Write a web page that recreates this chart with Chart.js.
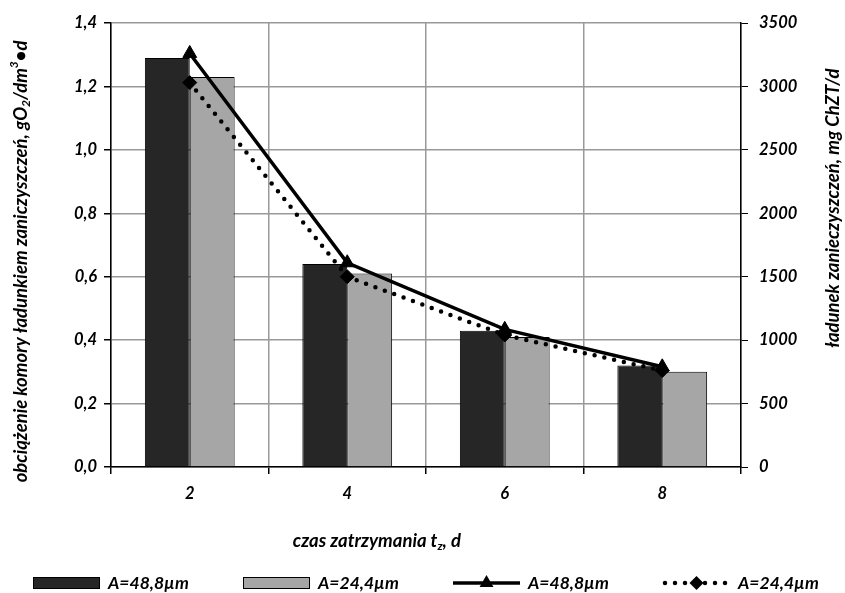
<!DOCTYPE html>
<html><head><meta charset="utf-8">
<script src="https://cdn.jsdelivr.net/npm/chart.js@4.4.1/dist/chart.umd.min.js"></script>
<style>html,body{margin:0;padding:0;background:#fff}#wrap{width:845px;height:593px}</style>
</head><body><div id="wrap"><canvas id="c" width="845" height="593"></canvas></div>
<script>
const categories = ['2', '4', '6', '8'];
const barA488 = [1.29, 0.64, 0.43, 0.32];
const barA244 = [1.23, 0.61, 0.41, 0.30];
const lineA488 = [3260, 1610, 1085, 790];
const lineA244 = [3030, 1500, 1040, 760];
const leftTickLabels = ['0,0', '0,2', '0,4', '0,6', '0,8', '1,0', '1,2', '1,4'];
const rightTickLabels = ['0', '500', '1000', '1500', '2000', '2500', '3000', '3500'];
const seriesLabels = ['A=48,8µm', 'A=24,4µm', 'A=48,8µm', 'A=24,4µm'];
const xTitle = [{t: 'czas zatrzymania t'}, {t: 'z', k: 'sub'}, {t: ', d'}];
const yLeftTitle = [{t: 'obciążenie komory ładunkiem zaniczyszczeń, gO'}, {t: '2', k: 'sub'}, {t: '/dm'}, {t: '3', k: 'sup'}, {t: '•d'}];
const yRightTitle = [{t: 'ładunek zanieczyszczeń, mg ChZT/d'}];

const FAM = 'Lato, "Open Sans", sans-serif';
const tickFont = {family: FAM, size: 16.5, style: 'italic', weight: 'bold'};

function drawRich(ctx, segs, cx, cy, rot, size) {
  ctx.save();
  ctx.translate(cx, cy);
  ctx.rotate(rot);
  const main = `italic bold ${size}px ${FAM}`;
  const small = `italic bold ${Math.round(size * 0.65)}px ${FAM}`;
  let total = 0;
  const ws = segs.map(s => { ctx.font = s.k ? small : main; const w = ctx.measureText(s.t).width; total += w; return w; });
  let x = -total / 2;
  ctx.textBaseline = 'middle';
  ctx.textAlign = 'left';
  ctx.fillStyle = '#000';
  segs.forEach((s, i) => {
    ctx.font = s.k ? small : main;
    const dy = s.k === 'sub' ? size * 0.3 : (s.k === 'sup' ? -size * 0.35 : 0);
    ctx.fillText(s.t, x, dy);
    x += ws[i];
  });
  ctx.restore();
}

function drawMarker(ctx, style, x, y, r) {
  ctx.beginPath();
  if (style === 'triangle') {
    const s = Math.sin(Math.PI / 3) * r;
    ctx.moveTo(x, y - r);
    ctx.lineTo(x + s, y + r / 2);
    ctx.lineTo(x - s, y + r / 2);
  } else {
    ctx.moveTo(x - r, y);
    ctx.lineTo(x, y - r);
    ctx.lineTo(x + r, y);
    ctx.lineTo(x, y + r);
  }
  ctx.closePath();
  ctx.fillStyle = '#000';
  ctx.fill();
}

const titlesPlugin = {
  id: 'titles',
  afterDraw(chart) {
    const ctx = chart.ctx;
    const a = chart.chartArea;
    drawRich(ctx, xTitle, a.left + a.width * 0.422, a.bottom + 74, 0, 18.5);
    drawRich(ctx, yLeftTitle, 21, a.top + a.height * 0.537, -Math.PI / 2, 18.5);
    drawRich(ctx, yRightTitle, chart.width - 12, a.top + a.height * 0.417, -Math.PI / 2, 18.5);
  }
};

const legendPlugin = {
  id: 'customLegend',
  afterDraw(chart) {
    const ctx = chart.ctx;
    const a = chart.chartArea;
    const pitch = 210, boxW = 67, gap = 8;
    const cy = a.bottom + 116;
    const x0 = a.left + a.width / 2 - 393;
    chart.data.datasets.forEach((ds, i) => {
      const x = x0 + i * pitch;
      ctx.save();
      if ((ds.type || 'bar') === 'bar') {
        ctx.fillStyle = ds.backgroundColor;
        ctx.fillRect(x, cy - 5.5, boxW, 11);
        ctx.strokeStyle = '#000';
        ctx.lineWidth = 1;
        ctx.strokeRect(x + 0.5, cy - 5.5, boxW - 1, 11);
      } else {
        ctx.strokeStyle = ds.borderColor;
        ctx.lineWidth = ds.borderWidth;
        ctx.setLineDash(ds.borderDash || []);
        ctx.lineCap = ds.borderCapStyle || 'butt';
        ctx.beginPath();
        ctx.moveTo(x + (ds.borderDash ? 2 : 0), cy);
        ctx.lineTo(x + boxW, cy);
        ctx.stroke();
        ctx.setLineDash([]);
        drawMarker(ctx, ds.pointStyle, x + boxW / 2, cy, ds.pointRadius);
      }
      ctx.fillStyle = '#000';
      ctx.font = `italic bold 17.5px ${FAM}`;
      ctx.textBaseline = 'middle';
      ctx.textAlign = 'left';
      ctx.fillText(ds.label, x + boxW + gap, cy);
      ctx.restore();
    });
  }
};

new Chart(document.getElementById('c'), {
  type: 'bar',
  data: {
    labels: categories,
    datasets: [
      {label: seriesLabels[0], data: barA488, backgroundColor: '#262626', borderColor: '#000', borderWidth: 1, yAxisID: 'y', order: 2, barPercentage: 1, categoryPercentage: 0.57},
      {label: seriesLabels[1], data: barA244, backgroundColor: '#a6a6a6', borderColor: '#000', borderWidth: 1, yAxisID: 'y', order: 2, barPercentage: 1, categoryPercentage: 0.57},
      {type: 'line', label: seriesLabels[2], data: lineA488, yAxisID: 'y1', borderColor: '#000', borderWidth: 3.5, pointStyle: 'triangle', pointRadius: 8, pointBackgroundColor: '#000', pointBorderColor: '#000', pointBorderWidth: 1, fill: false, tension: 0, order: 1},
      {type: 'line', label: seriesLabels[3], data: lineA244, yAxisID: 'y1', borderColor: '#000', borderWidth: 4.5, borderDash: [0, 10], borderCapStyle: 'round', pointStyle: 'rectRot', pointRadius: 7, pointBackgroundColor: '#000', pointBorderColor: '#000', pointBorderWidth: 1, fill: false, tension: 0, order: 1}
    ]
  },
  options: {
    responsive: false,
    animation: false,
    devicePixelRatio: 1,
    layout: {padding: {left: 0, right: 0, top: 23, bottom: 85}},
    plugins: {legend: {display: false}, tooltip: {enabled: false}},
    scales: {
      x: {
        offset: true,
        grid: {offset: true, color: '#999', lineWidth: 1.5, tickColor: '#000', tickLength: 7},
        border: {color: '#000', width: 1.5},
        ticks: {font: tickFont, color: '#000', padding: 10},
        afterFit(s) { s.height = 41; }
      },
      y: {
        position: 'left',
        min: 0, max: 1.4,
        ticks: {stepSize: 0.2, font: tickFont, color: '#000', padding: 7, callback: (v, i) => leftTickLabels[i]},
        grid: {color: '#999', lineWidth: 1.5, tickColor: '#000', tickLength: 7},
        border: {color: '#000', width: 1.5},
        afterFit(s) { s.width = 111; }
      },
      y1: {
        position: 'right',
        min: 0, max: 3500,
        ticks: {stepSize: 500, font: tickFont, color: '#000', padding: 11, callback: (v, i) => rightTickLabels[i]},
        grid: {drawOnChartArea: false, tickColor: '#000', tickLength: 7},
        border: {color: '#000', width: 1.5},
        afterFit(s) { s.width = 104; }
      }
    }
  },
  plugins: [titlesPlugin, legendPlugin]
});
</script>
</body></html>
